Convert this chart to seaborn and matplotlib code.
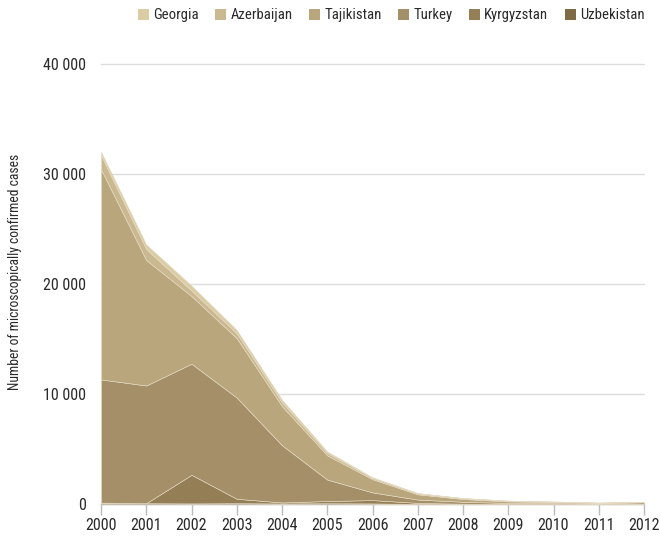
import matplotlib
matplotlib.use("Agg")
import matplotlib.pyplot as plt
import seaborn as sns
import numpy as np
from matplotlib.patches import Patch

years = list(range(2000, 2013))
uzbekistan = [126, 74, 54, 74, 48, 69, 54, 5, 5, 1, 0, 1, 1]
kyrgyzstan = [0, 0, 2600, 400, 93, 200, 300, 96, 18, 4, 3, 5, 40]
turkey = [11200, 10700, 10100, 9200, 5200, 1950, 700, 300, 180, 84, 78, 40, 120]
tajikistan = [19100, 11400, 6150, 5400, 3550, 2200, 1200, 480, 250, 150, 100, 70, 30]
azerbaijan = [1300, 1000, 500, 450, 350, 220, 120, 90, 80, 60, 40, 4, 3]
georgia = [300, 420, 450, 300, 240, 140, 55, 24, 10, 5, 3, 2, 1]

labels = ["Georgia", "Azerbaijan", "Tajikistan", "Turkey", "Kyrgyzstan", "Uzbekistan"]
colors = {"Georgia": "#dccca4", "Azerbaijan": "#cab891", "Tajikistan": "#b9a67c",
          "Turkey": "#a58f68", "Kyrgyzstan": "#947e55", "Uzbekistan": "#7f6a44"}

sns.set_theme(style="white")
plt.rcParams["font.family"] = ["Liberation Sans Narrow", "Roboto Condensed", "Liberation Sans", "DejaVu Sans"]

fig = plt.figure(figsize=(6.6, 5.37), dpi=100)
ax = fig.add_axes([101/660, 1 - 504/537, (644-101)/660, (504-64)/537])

order = ["Uzbekistan", "Kyrgyzstan", "Turkey", "Tajikistan", "Azerbaijan", "Georgia"]
series = {"Uzbekistan": uzbekistan, "Kyrgyzstan": kyrgyzstan, "Turkey": turkey,
          "Tajikistan": tajikistan, "Azerbaijan": azerbaijan, "Georgia": georgia}
ax.stackplot(years, *[series[k] for k in order], colors=[colors[k] for k in order],
             edgecolor="#e6dcc6", linewidth=0.4, zorder=3)

ax.set_xlim(2000, 2012)
ax.set_ylim(0, 40000)
ax.set_yticks([0, 10000, 20000, 30000, 40000])
ax.set_yticklabels(["0", "10 000", "20 000", "30 000", "40 000"])
ax.set_xticks(years)
ax.set_xticklabels([str(y) for y in years])
ax.yaxis.grid(True, color="#dddddd", linewidth=1, clip_on=False)
ax.xaxis.grid(False)
for s in ["top", "right", "left"]:
    ax.spines[s].set_visible(False)
ax.spines["bottom"].set_color("#bbbbbb")
ax.spines["bottom"].set_linewidth(1)
ax.tick_params(axis="x", which="both", bottom=True, length=8, width=1, color="#bbbbbb",
               labelsize=11.5, pad=2, labelcolor="#2a2a2a")
ax.tick_params(axis="y", left=False, length=0, labelsize=11.5, pad=11, labelcolor="#2a2a2a")
ax.set_ylabel("Number of microscopically confirmed cases", fontsize=9.8, color="#2a2a2a")
ax.yaxis.set_label_coords(-0.145, 0.527)

handles = [Patch(facecolor=colors[l], edgecolor="none") for l in labels]
fig.legend(handles, labels, loc="upper right", bbox_to_anchor=(0.997, 1.009), ncol=6, frameon=False,
           fontsize=10.6, handlelength=0.75, handleheight=0.75, handletextpad=0.3, columnspacing=1.1,
           labelcolor="#2a2a2a")

fig.savefig("out.png", dpi=100)
